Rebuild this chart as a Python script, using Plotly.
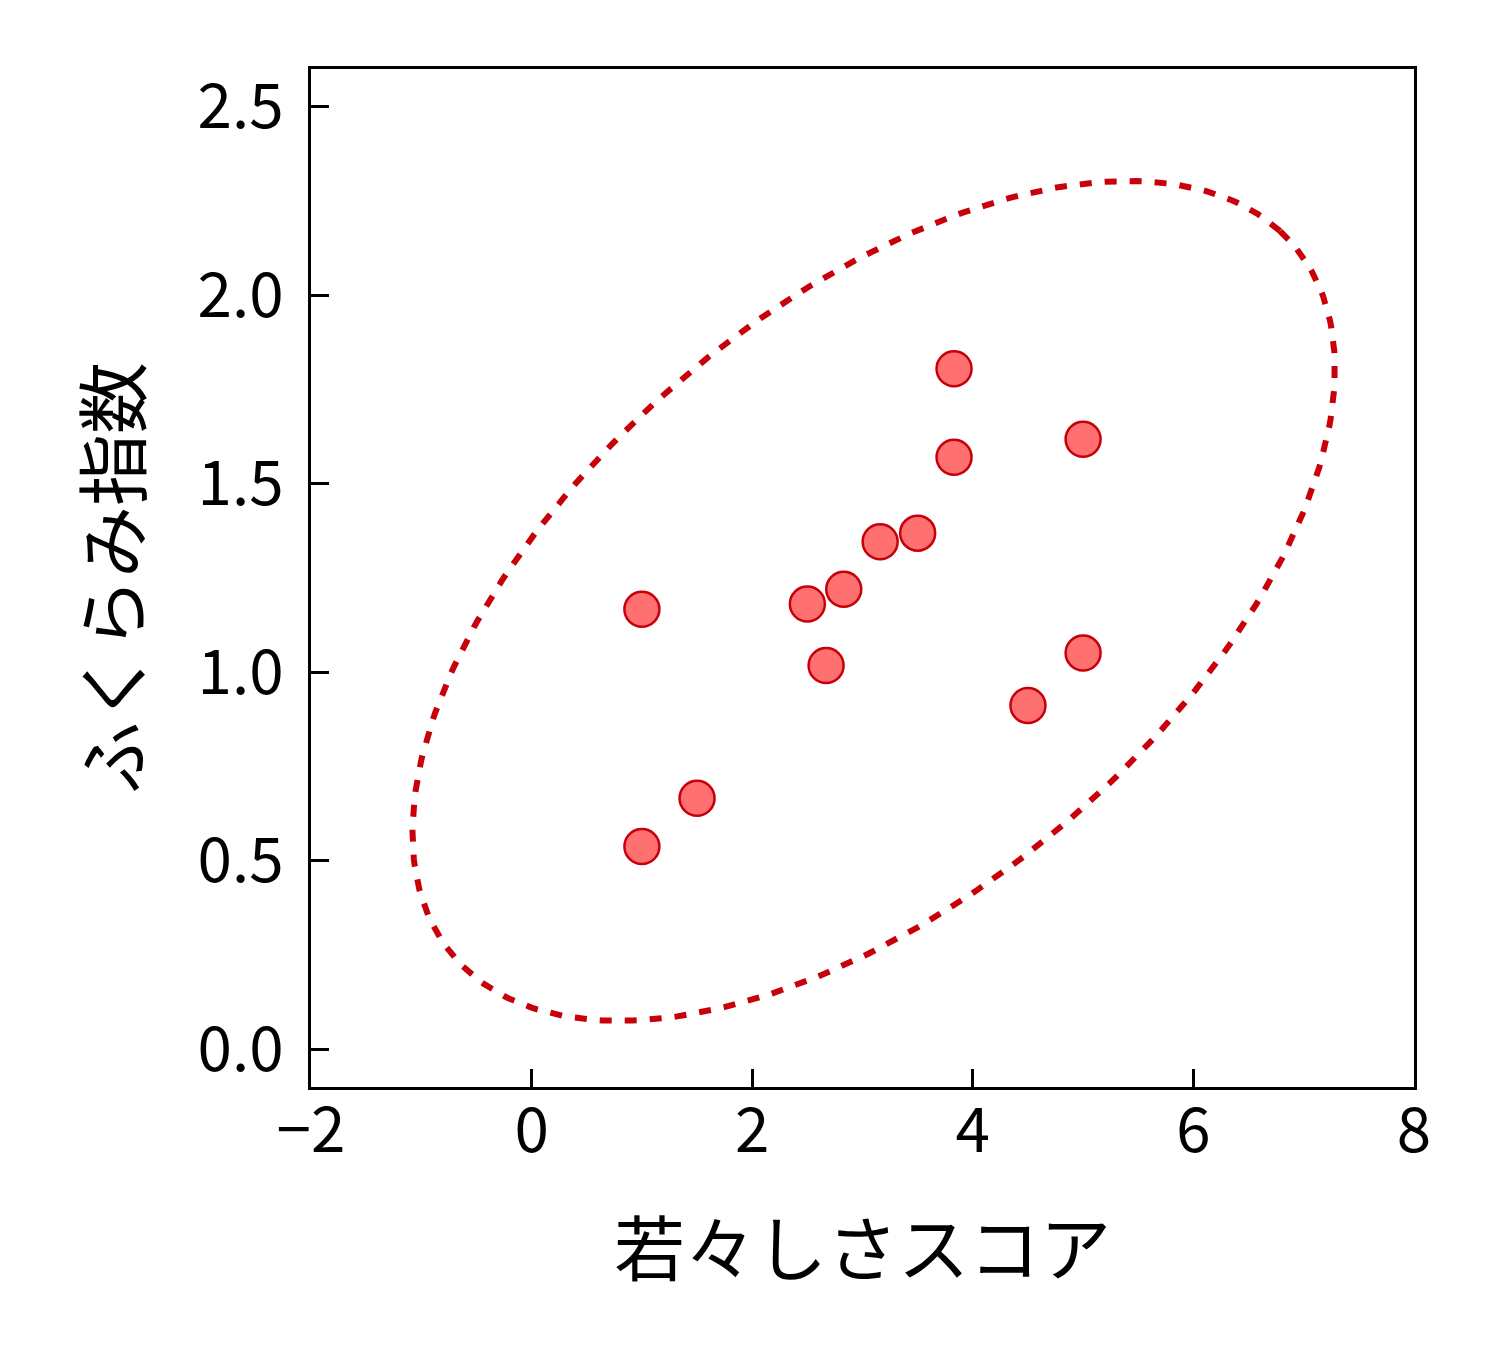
import numpy as np
import plotly.graph_objects as go

# Data
x_vals = [1.0, 1.0, 1.5, 2.5, 2.67, 2.83, 3.16, 3.5, 3.83, 3.83, 5.0, 5.0, 4.5]
y_vals = [1.167, 0.538, 0.666, 1.181, 1.018, 1.220, 1.346, 1.369, 1.805, 1.570, 1.618, 1.051, 0.912]
x_ticks = [-2, 0, 2, 4, 6, 8]
y_ticks = [0.0, 0.5, 1.0, 1.5, 2.0, 2.5]
n_std = 3.06

x_label = "若々しさスコア"
y_label = "ふくらみ指数"

# Confidence ellipse computed from the data covariance
xa = np.array(x_vals)
ya = np.array(y_vals)
cov = np.cov(xa, ya)
pearson = cov[0, 1] / np.sqrt(cov[0, 0] * cov[1, 1])
rx = np.sqrt(1 + pearson)
ry = np.sqrt(1 - pearson)
t = np.linspace(0, 2 * np.pi, 400)
ex0 = rx * np.cos(t)
ey0 = ry * np.sin(t)
c45 = np.cos(np.pi / 4)
s45 = np.sin(np.pi / 4)
exr = ex0 * c45 - ey0 * s45
eyr = ex0 * s45 + ey0 * c45
ex = exr * np.sqrt(cov[0, 0]) * n_std + xa.mean()
ey = eyr * np.sqrt(cov[1, 1]) * n_std + ya.mean()

font_family = "Noto Sans CJK JP, Noto Sans, DejaVu Sans, sans-serif"

fig = go.Figure()
fig.add_trace(go.Scatter(
    x=ex, y=ey, mode="lines",
    line=dict(color="#C8000A", width=6, dash="12px,13px"),
    hoverinfo="skip", showlegend=False,
))
fig.add_trace(go.Scatter(
    x=x_vals, y=y_vals, mode="markers",
    marker=dict(size=35, color="#FF7070", line=dict(color="#C8000A", width=2.5)),
    showlegend=False,
))

fig.update_layout(
    width=1509, height=1350,
    margin=dict(l=303, r=103, t=61, b=271),
    paper_bgcolor="white", plot_bgcolor="white",
    font=dict(family=font_family, color="black", size=62),
)
fig.update_xaxes(
    range=[-2, 8], tickvals=x_ticks, ticks="inside", ticklen=18, tickwidth=2.5,
    tickcolor="black", showline=True, linewidth=3, linecolor="black", mirror=True,
    showgrid=False, zeroline=False, tickfont=dict(size=62),
    ticklabelstandoff=-12,
    title=dict(text=x_label, font=dict(size=71), standoff=56),
)
fig.update_yaxes(
    range=[-0.1, 2.6], tickvals=y_ticks, tickformat=".1f", ticks="inside", ticklen=18,
    tickwidth=2.5, tickcolor="black", showline=True, linewidth=3, linecolor="black",
    mirror=True, showgrid=False, zeroline=False, tickfont=dict(size=62),
    ticklabelstandoff=12,
    title=dict(text=y_label, font=dict(size=72), standoff=34),
)

fig.write_html("out.html")
